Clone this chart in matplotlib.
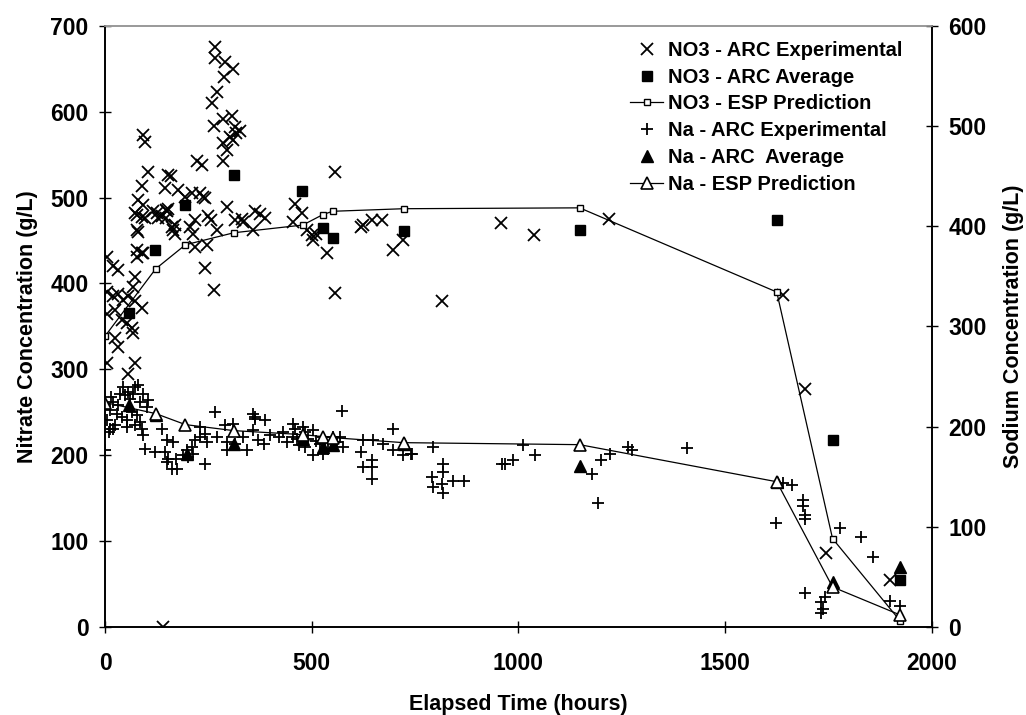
import matplotlib
matplotlib.use("Agg")
import matplotlib.pyplot as plt

plt.rcParams['font.family'] = ['Liberation Sans', 'DejaVu Sans']
plt.rcParams['font.weight'] = 'bold'

# NO3 - ARC experimental (hours, g/L)
no3_exp_t = [265, 265, 290, 308, 287, 270, 259, 263, 286, 306, 314, 326, 302, 286, 309, 316, 294, 286, 221, 233,
             92, 96, 104, 88, 152, 160, 145, 80, 72, 76, 96, 124, 137, 148, 177, 193, 209, 229, 241, 237,
             165, 168, 205, 217, 213, 249, 257, 217, 245, 294, 270, 241, 262,
             92, 76, 88, 79, 116, 128, 152, 150, 148, 161, 169, 76, 88, 76, 92, 3, 19, 32, 72, 68,
             3, 19, 32, 44, 56, 72, 88, 3, 24, 40, 52, 64, 68, 24, 32, 3, 72, 56,
             314, 330, 362, 374, 387, 358, 333, 459, 475, 455, 487, 503, 511, 500, 536, 556, 556,
             624, 645, 669, 697, 721, 620,
             958, 1038, 1220, 814, 1640, 1693, 1744, 1899, 139]
no3_exp_c = [675, 662, 658, 650, 640, 623, 610, 583, 592, 595, 582, 577, 571, 563, 567, 575, 555, 542, 542, 538,
             573, 565, 530, 513, 526, 525, 511, 497, 482, 462, 476, 482, 478, 485, 509, 501, 505, 505, 499, 501,
             462, 468, 466, 474, 458, 478, 474, 443, 445, 489, 462, 418, 392,
             491, 480, 477, 460, 484, 476, 487, 484, 476, 466, 458, 439, 435, 431, 435, 431, 420, 416, 408, 396,
             390, 385, 388, 381, 385, 379, 371, 365, 369, 357, 354, 348, 342, 336, 326, 307, 307, 295,
             474, 475, 484, 481, 476, 462, 472, 493, 482, 472, 462, 451, 458, 456, 435, 530, 389,
             468, 474, 474, 439, 451, 466,
             470, 456, 475, 379, 387, 277, 86, 55, 0]

# NO3 - ARC average
no3_avg_t = [58, 121, 194, 311, 477, 526, 550, 722, 1148, 1625, 1760, 1924]
no3_avg_c = [366, 439, 491, 526, 508, 465, 453, 461, 462, 474, 218, 55]

# NO3 - ESP prediction
no3_esp_t = [0, 122, 194, 311, 478, 526, 550, 722, 1148, 1625, 1760, 1924]
no3_esp_c = [339, 417, 445, 459, 468, 480, 484, 487, 488, 390, 103, 7]

# Na - ARC experimental
na_exp_t = [0, 3, 8, 19, 19, 36, 48, 56, 68, 80, 92, 104, 11, 28, 40, 52, 64, 76, 84, 52, 11, 24, 72, 88, 92,
            137, 149, 165, 96, 120, 145, 153, 150, 171, 161, 173, 189, 197, 201, 213, 209, 217, 229, 241, 245,
            241, 265, 229, 270, 290, 310, 294, 294, 314, 334, 342, 358, 362, 387, 358, 370, 383, 399, 459, 463,
            44, 60, 72, 84, 100, 30, 15,
            572, 362, 455, 503, 483, 527, 551, 567, 576, 503, 527, 483, 624, 648, 673, 697, 697, 721, 741, 620,
            624, 645, 645, 645, 455, 519, 479, 430, 420, 440, 470, 490, 510, 540, 560,
            743, 794, 818, 818, 790, 794, 814, 818, 842, 868, 959, 967, 987, 1011, 1040, 1177, 1193, 1199, 1221,
            1266, 1275, 1407, 1641, 1661,
            1689, 1689, 1693, 1693, 1624, 1778, 1830, 1857, 1693, 1741, 1733, 1737, 1733, 1899, 1924]
na_exp_c = [177, 207, 195, 198, 225, 233, 232, 235, 233, 242, 233, 227, 217, 213, 210, 207, 215, 212, 205, 200,
            198, 202, 202, 198, 192,
            198, 187, 185, 178, 175, 175, 168, 165, 168, 158, 158, 172, 177, 170, 173, 180, 187, 190, 193, 185,
            163, 215, 200, 190, 202, 203, 185, 177, 183, 190, 177, 213, 208, 207, 197, 187, 183, 192, 198, 188,
            240, 228, 240, 225, 220, 222, 230,
            216, 210, 203, 197, 195, 190, 190, 190, 180, 172, 173, 180, 187, 187, 183, 198, 177, 172, 173, 175,
            160, 160, 167, 148, 190, 183, 200, 195, 190, 185, 182, 188, 186, 178, 185,
            173, 180, 163, 155, 150, 140, 143, 134, 146, 146, 163, 163, 167, 182, 172, 153, 124, 167, 173,
            180, 177, 179, 144, 142,
            127, 121, 112, 108, 104, 99, 90, 70, 34, 30, 25, 18, 14, 26, 21]

# Na - ARC average
na_avg_t = [58, 122, 197, 311, 478, 526, 550, 722, 1148, 1625, 1760, 1924]
na_avg_c = [222, 212, 173, 183, 188, 180, 182, 183, 161, 145, 45, 60]

# Na - ESP prediction
na_esp_t = [0, 122, 194, 311, 478, 526, 550, 722, 1148, 1625, 1760, 1924]
na_esp_c = [224, 213, 202, 196, 192, 190, 189, 184, 182, 145, 40, 12]

fig = plt.figure(figsize=(10.26, 7.15), dpi=100)
ax = fig.add_axes([0.1026, 0.123, 0.8055, 0.841])
ax2 = ax.twinx()

h1, = ax.plot(no3_exp_t, no3_exp_c, 'x', color='black', ms=8.5, mew=1.3, linestyle='none',
              label='NO3 - ARC Experimental')
h2, = ax.plot(no3_avg_t, no3_avg_c, 's', color='black', ms=7, linestyle='none',
              label='NO3 - ARC Average')
h3, = ax.plot(no3_esp_t, no3_esp_c, '-s', color='black', lw=0.9, ms=4, mfc='white', mec='black', mew=1,
              label='NO3 - ESP Prediction')

h4, = ax2.plot(na_exp_t, na_exp_c, '+', color='black', ms=9, mew=1.3, linestyle='none',
               label='Na - ARC Experimental')
h5, = ax2.plot(na_avg_t, na_avg_c, '^', color='black', ms=8, linestyle='none',
               label='Na - ARC  Average')
h6, = ax2.plot(na_esp_t, na_esp_c, '-^', color='black', lw=0.9, ms=8, mfc='white', mec='black', mew=1.2,
               label='Na - ESP Prediction')

ax.set_xlim(0, 2000)
ax.set_ylim(0, 700)
ax2.set_ylim(0, 600)
ax.set_xticks([0, 500, 1000, 1500, 2000])
ax.set_yticks(range(0, 701, 100))
ax2.set_yticks(range(0, 601, 100))

for a in (ax, ax2):
    a.tick_params(direction='inout', length=8, width=1, labelsize=16.5, pad=8)
    for s in a.spines.values():
        s.set_linewidth(1.2)
    a.spines['top'].set_color('#999999')
ax.tick_params(axis='x', pad=14)

ax.set_xlabel('Elapsed Time (hours)', fontsize=15.5, fontweight='bold', labelpad=14)
ax.set_ylabel('Nitrate Concentration (g/L)', fontsize=15.5, fontweight='bold', labelpad=8.5)
ax2.set_ylabel('Sodium Concentration (g/L)', fontsize=15.5, fontweight='bold', labelpad=12)

ax2.legend(handles=[h1, h2, h3, h4, h5, h6], loc='upper left', bbox_to_anchor=(0.635, 0.975),
           frameon=False, fontsize=14.5, handlelength=1.65, labelspacing=0.39, borderaxespad=0,
           borderpad=0, handletextpad=0.25)

fig.savefig('out.png', dpi=100)
